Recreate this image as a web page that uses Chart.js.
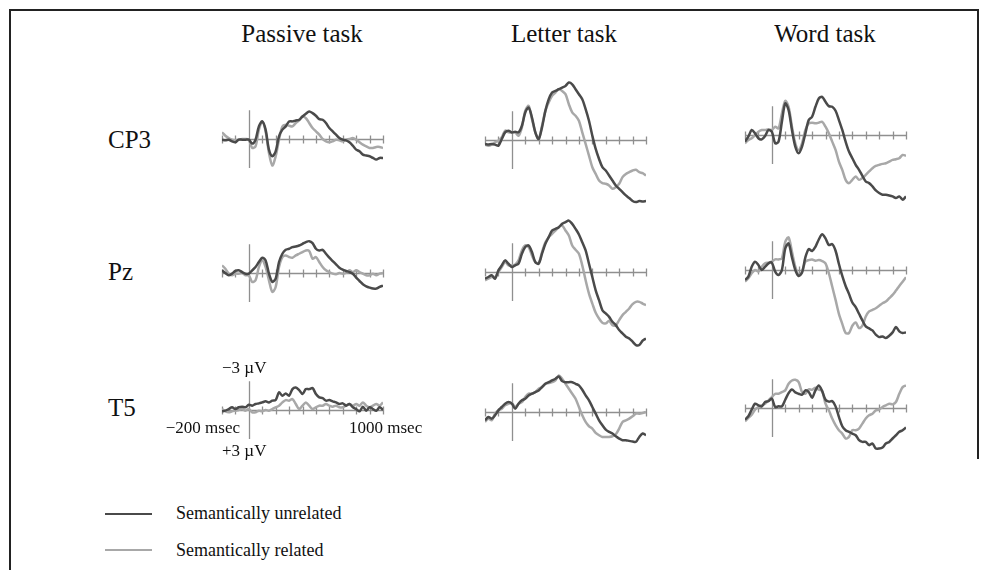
<!DOCTYPE html>
<html>
<head>
<meta charset="utf-8">
<script src="https://cdn.jsdelivr.net/npm/chart.js@4"></script>
<style>
    body {
        margin: 0;
        width: 993px;
        height: 570px;
        background: #fff;
        position: relative;
        overflow: hidden;
        font-family: "Liberation Serif", "Times New Roman", serif;
        color: #111;
    }
    .txt {
        position: absolute;
        white-space: nowrap;
        line-height: 1;
    }
    .rule {
        position: absolute;
        background: #222;
    }
    canvas {
        position: absolute;
    }
</style>
</head>
<body>
<div class="rule" style="left:9px;top:9px;width:970px;height:2px"></div>
<div class="rule" style="left:9px;top:9px;width:2px;height:561px"></div>
<div class="rule" style="left:977px;top:9px;width:2px;height:450px"></div>

<script>
// time points (msec)
const times = [-200, -175, -150, -125, -100, -75, -50, -25, 0, 25, 50, 75, 100, 125, 150, 175, 200,
    225, 250, 275, 300, 325, 350, 375, 400, 425, 450, 475, 500, 525, 550, 575, 600, 625, 650, 675,
    700, 725, 750, 775, 800, 825, 850, 875, 900, 925, 950, 975, 1000];
const tickTimes = [-200, -100, 100, 200, 300, 400, 500, 600, 700, 800, 900, 1000];

const tasks = ["Passive task", "Letter task", "Word task"];
const sites = ["CP3", "Pz", "T5"];
const seriesNames = ["Semantically unrelated", "Semantically related"];

// amplitudes in µV (negative plotted up)
const passiveCp3Unrelated = [0.07, 0.14, 0.07, 0.24, 0.34, 0.07, 0.07, 0.07, 0.07, 0.48, 0.07, -1.31, -1.83, -0.97, 1.1, 1.79, 1.28, -0.28, -0.97, -1.31, -1.83, -1.83, -1.93, -2.0, -2.34, -2.62, -2.86, -2.69, -2.41, -2.07, -2.0, -1.66, -1.14, -0.79, -0.45, -0.1, 0.07, 0.14, 0.34, 0.69, 1.1, 1.28, 1.62, 1.72, 1.79, 1.97, 2.14, 1.97, 1.97];
const passiveCp3Related = [-0.69, -0.34, -0.1, 0.07, 0.14, 0.07, 0, 0, 0.07, 0.93, 0.76, -0.97, -1.83, -0.79, 1.45, 2.76, 1.79, 0.07, -1.31, -1.48, -1.38, -1.31, -1.66, -1.93, -2.34, -2.17, -1.66, -1.14, -0.79, -0.45, 0, 0.24, 0.34, 0.24, 0.07, 0.14, 0.24, 0.07, 0, -0.1, 0.07, 0.34, 0.59, 0.76, 0.93, 0.93, 0.83, 0.83, 0.93];
const passivePzUnrelated = [-0.28, 0, 0.24, 0.07, -0.21, -0.28, -0.1, 0.07, 0.07, -0.28, -0.62, -1.14, -1.59, -1.31, 0.07, 0.93, 0.59, -1.14, -2.0, -2.41, -2.52, -2.69, -2.76, -2.86, -3.03, -3.21, -3.31, -3.1, -2.52, -2.34, -2.41, -2.0, -1.59, -1.24, -0.9, -0.55, -0.34, -0.21, -0.1, 0.07, 0.48, 0.83, 1.17, 1.38, 1.52, 1.62, 1.62, 1.45, 1.31];
const passivePzRelated = [-0.79, -0.45, 0.07, 0.24, 0.07, 0.07, 0, 0.24, 0.24, 0.93, 0.76, -0.62, -1.31, -0.62, 0.76, 1.97, 1.45, -0.62, -1.66, -1.83, -1.66, -1.59, -1.83, -2.0, -2.17, -2.34, -2.28, -1.48, -1.66, -1.14, -0.62, -0.28, -0.1, 0.07, 0.14, 0, 0.07, 0, -0.28, -0.1, -0.28, -0.1, 0.07, 0.24, 0.24, 0.07, 0.24, 0.07, 0];
const passiveT5Unrelated = [0.14, 0.07, -0.1, -0.28, -0.1, -0.28, -0.34, -0.28, -0.55, -0.45, -0.62, -0.69, -0.79, -0.9, -0.79, -0.97, -1.03, -1.83, -1.48, -1.72, -1.48, -2.17, -2.34, -2.07, -1.66, -2.17, -2.17, -2.28, -1.66, -1.31, -1.24, -0.97, -1.03, -0.9, -0.79, -0.62, -0.69, -0.45, -0.62, -0.28, -0.1, 0.14, -0.34, 0.07, -0.28, -0.1, 0.07, -0.28, 0];
const passiveT5Related = [-0.1, 0.14, 0.24, 0.14, 0.07, 0, -0.1, 0.07, -0.1, 0.24, 0.24, 0.07, 0.14, 0, 0.07, -0.1, -0.28, -0.45, -0.79, -1.03, -0.97, -1.14, -0.62, -0.1, -0.45, -0.79, -0.45, -0.1, -0.28, -0.45, -0.45, -0.62, -0.45, -0.34, -0.45, -0.28, -0.28, -0.45, -0.62, -0.45, -0.62, -0.45, -0.79, -0.45, -0.28, -0.45, -0.62, -0.45, -0.79];

const letterCp3Unrelated = [0.41, 0.48, 0.41, 0.48, 0.59, -0.1, -0.79, -0.97, -0.79, -0.86, -0.79, -1.48, -2.86, -3.38, -2.34, -0.79, -0.1, -1.31, -3.03, -4.24, -4.93, -5.1, -5.28, -5.45, -5.62, -5.97, -5.79, -5.28, -4.76, -4.24, -3.21, -2.0, -0.45, 0.93, 1.97, 2.83, 3.17, 3.69, 4.21, 4.72, 5.07, 5.41, 5.76, 6.03, 6.34, 6.45, 6.34, 6.38, 6.34];
const letterCp3Related = [0.48, 0.59, 0.48, 0.24, 0.07, -0.28, -0.97, -0.79, -0.79, -0.79, -0.45, -1.31, -3.03, -3.55, -2.17, -0.79, -0.1, -1.48, -3.03, -3.9, -4.59, -4.93, -5.28, -5.1, -4.76, -3.72, -2.86, -2.52, -2.0, -0.79, 0.41, 1.62, 2.83, 3.52, 4.21, 4.48, 4.55, 4.72, 5.07, 4.9, 4.55, 3.86, 3.52, 3.34, 3.17, 3.1, 3.34, 3.45, 3.69];
const letterPzUnrelated = [0.69, 0.52, 0.34, 0.69, -0.17, -0.69, -1.21, -0.86, -0.52, -0.69, -0.86, -1.9, -2.59, -2.76, -2.07, -1.03, -0.86, -1.9, -2.93, -3.62, -4.31, -4.48, -4.66, -5.0, -5.17, -5.34, -5.0, -4.48, -3.9, -3.1, -2.24, -0.86, 0.52, 1.9, 2.93, 3.97, 4.31, 4.66, 5.17, 5.52, 6.03, 6.38, 6.72, 6.9, 7.24, 7.59, 7.59, 7.14, 6.9];
const letterPzRelated = [0.86, 0.69, 0.52, 0.52, 0, -0.52, -1.03, -0.69, -0.69, -0.79, -1.21, -2.24, -2.76, -2.59, -1.72, -1.03, -0.93, -2.07, -3.1, -3.62, -3.97, -4.31, -4.66, -4.83, -4.31, -3.79, -2.76, -2.31, -1.9, -0.69, 0.86, 2.24, 3.28, 4.24, 4.83, 5.28, 5.34, 5.07, 5.52, 5.52, 5.0, 4.48, 4.14, 3.79, 3.34, 3.1, 3.1, 3.28, 3.45];
const letterT5Unrelated = [0.86, 0.52, 0.69, 0.34, -0.17, -0.52, -0.86, -1.03, -0.86, -0.34, -0.86, -1.21, -1.38, -1.72, -1.9, -2.07, -2.24, -2.59, -2.93, -3.1, -3.28, -3.45, -3.69, -3.21, -3.1, -3.1, -3.1, -2.93, -2.76, -2.31, -1.72, -1.21, -0.52, 0.17, 0.86, 1.38, 1.83, 2.07, 2.24, 2.52, 2.76, 2.93, 2.93, 3.0, 3.07, 3.1, 2.59, 2.24, 2.41];
const letterT5Related = [1.03, 0.69, 0.86, 0.17, -0.17, -0.34, -0.69, -0.86, -0.93, -0.52, -0.86, -1.03, -1.55, -1.9, -1.9, -2.07, -2.41, -2.59, -2.93, -3.0, -3.1, -3.28, -3.79, -3.45, -2.93, -2.41, -1.9, -1.38, -0.52, 0.34, 1.03, 1.48, 1.72, 2.17, 2.41, 2.59, 2.59, 2.59, 2.52, 2.31, 1.72, 1.03, 0.86, 0.69, 0.45, 0.17, 0.17, 0.1, 0];

const wordCp3Unrelated = [0.69, 0.17, -0.52, -0.17, 0.34, 0.45, 0.1, -0.52, -0.34, 0.86, 0.69, -1.38, -3.28, -2.59, -0.52, 1.21, 1.9, 1.21, -0.17, -1.55, -1.9, -2.93, -3.79, -3.97, -3.45, -3.0, -2.93, -2.52, -1.55, -0.52, 0.69, 1.72, 2.41, 3.1, 3.62, 4.24, 4.83, 5.0, 5.34, 5.76, 6.03, 6.21, 6.21, 6.28, 6.38, 6.55, 6.38, 6.72, 6.38];
const wordCp3Related = [0.86, 0.52, 0.34, 0, -0.34, -0.52, -0.52, -0.59, -0.52, -0.86, -0.69, -2.24, -3.55, -2.93, -0.86, 0.86, 1.55, 0.86, -0.52, -1.21, -1.28, -1.21, -1.28, -1.38, -0.86, -0.17, 0.69, 1.55, 2.76, 3.62, 4.66, 5.0, 4.66, 4.31, 4.66, 4.48, 4.14, 3.79, 3.45, 3.21, 3.1, 3.0, 2.93, 2.76, 2.59, 2.52, 2.41, 2.07, 2.17];
const wordPzUnrelated = [1.03, 0.69, -0.34, -0.86, -0.52, 0, -0.34, -0.69, -0.76, 0.17, 0.52, 0, -2.24, -2.76, -1.31, 0, 0.62, 0.28, -1.31, -2.17, -1.97, -2.41, -3.17, -3.72, -3.28, -2.59, -2.69, -2.0, -0.62, 0.62, 1.66, 2.48, 3.38, 3.86, 4.55, 5.24, 5.86, 6.07, 6.28, 6.72, 6.97, 6.9, 7.07, 6.83, 6.48, 5.93, 6.38, 6.55, 6.48];
const wordPzRelated = [1.21, 0.86, 0.34, 0, 0.17, -0.34, -0.69, -0.76, -0.86, -1.1, -1.1, -1.21, -2.93, -3.38, -1.9, -0.34, 0.52, 0.17, -0.86, -1.03, -1.1, -0.97, -1.03, -0.93, -0.69, 0.34, 1.72, 3.1, 4.55, 5.59, 6.55, 6.55, 5.79, 5.45, 6.03, 5.79, 4.83, 4.31, 4.14, 3.97, 3.72, 3.45, 3.28, 2.93, 2.59, 2.14, 1.66, 1.21, 0.76];
const wordT5Unrelated = [1.21, 0.86, 0.17, -0.45, -0.28, -0.17, -0.62, -0.72, -0.97, -0.1, -0.17, -0.17, -0.86, -1.55, -1.93, -1.62, -1.48, -1.38, -1.83, -1.66, -1.07, -1.83, -2.34, -1.76, -0.86, -0.66, -0.72, -0.17, 0.93, 1.9, 2.31, 2.48, 2.66, 2.83, 3.34, 3.52, 3.52, 3.86, 3.69, 4.21, 4.21, 4.1, 3.69, 3.52, 3.17, 2.83, 2.48, 2.31, 2.03];
const wordT5Related = [1.38, 1.03, 0.69, 0.17, -0.1, -0.28, -0.45, -0.79, -1.14, -1.48, -1.48, -1.66, -1.83, -2.52, -2.86, -2.93, -2.69, -1.66, -1.48, -1.93, -1.9, -2.1, -1.9, -1.76, -0.45, 0.24, 1.1, 1.79, 2.31, 2.66, 3.17, 3.0, 2.31, 2.31, 2.14, 1.62, 1.1, 0.76, 0.59, 0.24, 0.17, -0.1, -0.28, -0.45, -0.38, -0.62, -1.48, -2.17, -2.34];

const DARK = "#4a4a4a";
const LIGHT = "#a8a8a8";
const AXIS = "#8f8f8f";

// panel placement: x of t=0 and y of the 0 µV line, in page pixels
const columnX = [248.5, 512, 772];
const panelY = [
    [139, 139.5, 135],
    [272.5, 271.5, 270],
    [409.5, 411.5, 407.5],
];
const panelData = [
    [[passiveCp3Unrelated, passiveCp3Related], [letterCp3Unrelated, letterCp3Related], [wordCp3Unrelated, wordCp3Related]],
    [[passivePzUnrelated, passivePzRelated], [letterPzUnrelated, letterPzRelated], [wordPzUnrelated, wordPzRelated]],
    [[passiveT5Unrelated, passiveT5Related], [letterT5Unrelated, letterT5Related], [wordT5Unrelated, wordT5Related]],
];

const PX_PER_MS = 161 / 1200;
const PAD_X = 10;
const CANVAS_H = 160;

function addText(str, x, baseline, size, align) {
    const d = document.createElement("div");
    d.className = "txt";
    d.textContent = str;
    d.style.fontSize = size + "px";
    d.style.top = (baseline - 0.8375 * size) + "px";
    if (align === "center") {
        d.style.left = x + "px";
        d.style.transform = "translateX(-50%)";
    } else if (align === "right") {
        d.style.right = (993 - x) + "px";
    } else {
        d.style.left = x + "px";
    }
    document.body.appendChild(d);
}

const erpAxes = {
    id: "erpAxes",
    beforeDatasetsDraw(chart) {
        const { ctx, scales: { x, y } } = chart;
        const y0 = Math.round(y.getPixelForValue(0)) + 0.5;
        const x0 = Math.round(x.getPixelForValue(0)) + 0.5;
        ctx.save();
        ctx.strokeStyle = AXIS;
        ctx.lineWidth = 1.3;
        ctx.beginPath();
        ctx.moveTo(x.getPixelForValue(-200), y0);
        ctx.lineTo(x.getPixelForValue(1000), y0);
        tickTimes.forEach(t => {
            const px = Math.round(x.getPixelForValue(t)) + 0.5;
            ctx.moveTo(px, y0 - 4);
            ctx.lineTo(px, y0 + 4);
        });
        ctx.moveTo(x0, y.getPixelForValue(-3));
        ctx.lineTo(x0, y.getPixelForValue(3));
        ctx.stroke();
        ctx.restore();
    }
};

function makePanel(row, col) {
    const canvas = document.createElement("canvas");
    const w = 161 + 2 * PAD_X;
    canvas.width = w;
    canvas.height = CANVAS_H;
    canvas.style.width = w + "px";
    canvas.style.height = CANVAS_H + "px";
    canvas.style.left = (columnX[col] - 200 * PX_PER_MS - PAD_X) + "px";
    canvas.style.top = (panelY[row][col] - CANVAS_H / 2) + "px";
    document.body.appendChild(canvas);

    const [unrelated, related] = panelData[row][col];
    const toPoints = arr => arr.map((v, i) => ({ x: times[i], y: v }));

    new Chart(canvas, {
        type: "line",
        data: {
            datasets: [
                { label: seriesNames[0], data: toPoints(unrelated), borderColor: DARK, borderWidth: 2.5, pointRadius: 0, tension: 0.3 },
                { label: seriesNames[1], data: toPoints(related), borderColor: LIGHT, borderWidth: 2.5, pointRadius: 0, tension: 0.3 },
            ]
        },
        options: {
            responsive: false,
            animation: false,
            events: [],
            layout: { padding: { left: PAD_X, right: PAD_X, top: 3, bottom: 3 } },
            plugins: { legend: { display: false }, tooltip: { enabled: false } },
            scales: {
                x: { type: "linear", min: -200, max: 1000, display: false },
                y: { min: -8, max: 8, reverse: true, display: false },
            }
        },
        plugins: [erpAxes]
    });
}

for (let r = 0; r < 3; r++) {
    for (let c = 0; c < 3; c++) {
        makePanel(r, c);
    }
}

// titles and row labels
addText(tasks[0], 302, 42, 25, "center");
addText(tasks[1], 564, 42, 25, "center");
addText(tasks[2], 825, 42, 25, "center");
addText(sites[0], 108, 148, 25, "left");
addText(sites[1], 108, 280, 25, "left");
addText(sites[2], 108, 416, 25, "left");

// scale labels on the passive T5 panel
addText("\u22123 \u00b5V", 222, 373, 17, "left");
addText("+3 \u00b5V", 222, 456, 17, "left");
addText("\u2212200 msec", 240, 433, 17, "right");
addText("1000 msec", 349, 433, 17, "left");

// legend
[[DARK, 513.5, 519], [LIGHT, 550, 556]].forEach(([color, ly, base], i) => {
    const l = document.createElement("div");
    l.className = "rule";
    l.style.cssText = `left:105px;top:${ly - 1}px;width:47px;height:2px;background:${color}`;
    document.body.appendChild(l);
    addText(seriesNames[i], 176, base, 18, "left");
});
</script>
</body>
</html>
